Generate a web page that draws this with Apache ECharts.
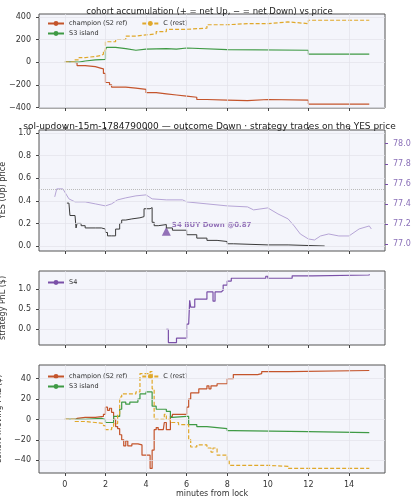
<!DOCTYPE html>
<html><head><meta charset="utf-8">
<script src="https://cdn.jsdelivr.net/npm/echarts@6/dist/echarts.min.js"></script>
<style>html,body{margin:0;background:#fff}#c{width:419px;height:500px}</style>
</head><body><div id="c"></div>
<script>
// panel 1: accumulated net YES shares
var accChampX = [0,0.3,0.6,1,1.5,1.8,1.9,2.0,2.2,2.3,3,3.5,4,4.5,5,5.5,6,6.5,7,8,9,10,12,15];
var accChampY = [0,-5,-30,-40,-55,-60,-100,-180,-200,-220,-230,-240,-270,-280,-290,-300,-310,-330,-335,-340,-330,-335,-370,-370];
var accS3X = [0,0.7,1,1.5,2,2.05,2.5,3,3.5,4,5,5.5,6,8,12,15];
var accS3Y = [0,10,20,25,110,130,120,105,115,120,115,125,110,105,70,70];
var accCX = [0,0.5,0.7,1,1.5,1.8,1.9,2,2.5,3,3.5,4,4.5,5,6,7,8,9,10,11,12,15];
var accCY = [0,20,40,50,60,70,100,180,200,230,240,250,270,290,300,330,340,340,355,340,370,370];

// panel 2: YES price and SOL/USD
var yesX = [0.1,0.2,0.25,0.5,0.55,0.6,0.8,1,1.5,1.8,2,2.1,2.3,2.5,2.7,2.8,3.0,3.3,3.7,3.9,4.2,4.3,4.4,4.6,5,5.3,6,6.5,7,7.5,8,8.3,10,11,12.8];
var yesY = [0.38,0.37,0.27,0.26,0.16,0.2,0.18,0.16,0.16,0.15,0.12,0.09,0.09,0.15,0.2,0.23,0.24,0.25,0.26,0.33,0.34,0.21,0.18,0.19,0.16,0.14,0.1,0.07,0.05,0.04,0.02,0.01,0.01,0.0,0.0];
var solX = [-0.5,-0.4,-0.1,0.2,0.5,1,1.5,2,2.3,2.6,3,3.5,4,4.3,5,5.8,6,7,8,9,9.3,10,10.5,11,11.3,11.6,12,12.3,12.6,13,13.5,14,14.5,15,15.1];
var solY = [77.47,77.55,77.55,77.45,77.42,77.42,77.4,77.38,77.4,77.44,77.46,77.48,77.49,77.45,77.44,77.44,77.42,77.4,77.38,77.37,77.34,77.36,77.3,77.25,77.18,77.1,77.05,77.04,77.08,77.1,77.08,77.08,77.15,77.18,77.15];
var buyTrade = [5.0, 0.13];

// panel 3: strategy PnL
var s4X = [5,5.1,5.3,5.5,5.9,6.0,6.1,6.12,6.15,6.2,6.4,6.9,7,7.2,7.3,7.4,7.7,7.8,8,8.2,9.8,9.9,10,11.2,12.2,15];
var s4Y = [0,-0.33,-0.33,-0.22,-0.22,0.13,0.13,0.36,0.72,0.55,0.75,0.75,0.93,0.93,0.7,0.93,0.97,1.1,1.2,1.27,1.27,1.32,1.27,1.33,1.35,1.37];

// panel 4: cohort moving PnL
var pnlChampX = [0,0.5,0.6,1,1.5,1.9,2,2.1,2.2,2.3,2.4,2.5,2.6,2.7,2.8,2.9,3.0,3.1,3.3,3.6,3.8,4.2,4.3,4.4,4.5,4.6,4.85,4.9,5.0,5.2,5.3,5.9,6.0,6.1,6.2,6.6,7.0,7.1,7.2,7.5,8,8.3,9.5,9.7,11,15];
var pnlChampY = [0,1,2,2,3,5,12,9,11,7,0,-7,-9,-15,-20,-26,-21,-26,-24,-25,-35,-48,-30,-10,-8,-10,-10,-3,-10,3,5,5,12,20,26,30,33,30,33,35,40,44,45,47,48,48];
var pnlS3X = [0,1,1.8,2,2.4,2.7,2.8,3,3.2,3.6,3.7,4.0,4.3,4.5,5,5.2,5.3,6,6.1,6.5,7,7.5,8,8.3,12,15];
var pnlS3Y = [0,1,0,-3,3,10,17,15,17,20,25,27,13,10,8,2,3,3,-5,-7,-8,-9,-11,-12,-13,-13];
var pnlCX = [0,0.5,1,1.5,1.9,2,2.3,2.4,2.6,2.7,2.8,3.5,3.7,4.1,4.2,4.3,4.4,4.8,4.9,5,5.2,5.6,6,6.1,6.2,6.5,7.0,7.2,7.3,7.5,8,8.1,9.5,10,11,15];
var pnlCY = [0,-2,-3,-4,-6,-10,-8,-4,5,22,25,27,45,45,47,30,0,0,5,0,-3,-5,-5,-20,-27,-25,-28,-32,-28,-35,-40,-45,-45,-46,-48,-48];

var xTicks = [0,2,4,6,8,10,12,14];

var COL = {champ:'#c4542b', s3:'#3f9a45', c:'#e0a82a', s4:'#7a50a8', sol:'#b6a5d6', yes:'#3a3a3a'};
function zip(xs, ys){ return xs.map(function(x,i){ return [x, ys[i]]; }); }

var grids = [
  {left:39, right:34, top:14, height:94},
  {left:39, right:34, top:130, height:121},
  {left:39, right:34, top:271, height:74},
  {left:39, right:34, top:365, height:108}
];
grids.forEach(function(g){ g.show = true; g.backgroundColor = '#f4f5fb'; g.borderColor = '#555'; g.borderWidth = 1;
  g.outerBoundsMode = 'none'; g.containLabel = false; });

var txt = {color:'#333', fontSize:8, fontFamily:'DejaVu Sans'};
function xAxis(i, labels){
  return {type:'value', gridIndex:i, min:-1.275, max:15.775,
    axisLine:{show:false, onZero:false}, splitLine:{show:false},
    axisTick:{show:true, customValues:xTicks, length:3, lineStyle:{color:'#444'}},
    axisLabel:Object.assign({show:labels, customValues:xTicks}, txt),
    name: labels ? 'minutes from lock' : '', nameLocation:'middle', nameGap:15,
    nameTextStyle:{color:'#333', fontSize:8}};
}
function yAxis(i, min, max, ticks, name, fmt){
  return {type:'value', gridIndex:i, min:min, max:max,
    axisLine:{show:false, onZero:false}, splitLine:{show:false},
    axisTick:{show:true, customValues:ticks, length:3, lineStyle:{color:'#444'}},
    axisLabel:Object.assign({customValues:ticks, formatter:fmt}, txt),
    name:name, nameLocation:'middle', nameRotate:90, nameGap:25,
    nameTextStyle:{color:'#333', fontSize:8}};
}
function minus(v){ return String(v).replace('-', '\u2212'); }
function f1(v){ return minus(v.toFixed(1)); }

function gridLines(xi, ys){
  return {silent:true, symbol:'none', label:{show:false},
    lineStyle:{color:'#e2e3ea', width:0.7, type:'solid'},
    data: ys.map(function(y){ return {yAxis:y}; }).concat(xTicks.map(function(x){ return {xAxis:x}; }))};
}
function step(name, xs, ys, xi, yi, color, dashed, extra){
  var s = {name:name, type:'line', step:'end', xAxisIndex:xi, yAxisIndex:yi, symbol:'none',
    data:zip(xs, ys), lineStyle:{color:color, width:1.2, type:dashed ? [4,2] : 'solid'},
    itemStyle:{color:color}};
  return Object.assign(s, extra || {});
}

var option = {
  animation:false,
  textStyle:{fontFamily:'DejaVu Sans'},
  title:[
    {text:'cohort accumulation (+ = net Up, \u2212 = net Down) vs price', left:'center', top:2,
     textStyle:{fontSize:8.5, fontWeight:'normal', color:'#222'}},
    {text:'sol-updown-15m-1784790000 \u2014 outcome Down \u00b7 strategy trades on the YES price', left:'center', top:117,
     textStyle:{fontSize:9, fontWeight:'normal', color:'#222'}}
  ],
  legend:[
    {data:['champion (S2 ref)','C (rest)'], left:42, top:15, itemWidth:16, itemHeight:6, itemGap:14,
     textStyle:{fontSize:6.5, color:'#333'}},
    {data:['S3 island'], left:42, top:25, itemWidth:16, itemHeight:6, textStyle:{fontSize:6.5, color:'#333'}},
    {data:['S4'], left:42, top:274, itemWidth:16, itemHeight:6, textStyle:{fontSize:6.5, color:'#333'}},
    {data:['champion (S2 ref)','C (rest)'], left:42, top:368, itemWidth:16, itemHeight:6, itemGap:14,
     textStyle:{fontSize:6.5, color:'#333'}},
    {data:['S3 island'], left:42, top:378, itemWidth:16, itemHeight:6, textStyle:{fontSize:6.5, color:'#333'}}
  ],
  grid:grids,
  xAxis:[xAxis(0,false), xAxis(1,false), xAxis(2,false), xAxis(3,true), xAxis(1,false)],
  yAxis:[
    yAxis(0, -405, 425, [-400,-200,0,200,400], 'acc. net YES (shares)', minus),
    yAxis(1, -0.044, 1.027, [0,0.2,0.4,0.6,0.8,1.0], 'YES (Up) price', f1),
    yAxis(2, -0.39, 1.45, [0,0.5,1.0], 'strategy PnL ($)', f1),
    yAxis(3, -52.5, 53.4, [-40,-20,0,20,40], 'cohort moving PnL ($)', minus),
    {type:'value', gridIndex:1, position:'right', min:76.93, max:78.137,
     axisLine:{show:false, onZero:false}, splitLine:{show:false},
     axisTick:{show:true, customValues:[77.0,77.2,77.4,77.6,77.8,78.0], length:3, lineStyle:{color:COL.s4}},
     axisLabel:{customValues:[77.0,77.2,77.4,77.6,77.8,78.0], color:'#8a6fb8', fontSize:8, formatter:function(v){return v.toFixed(1);}},
     name:'SOL/USD (strike dotted = YES 0.5)', nameLocation:'middle', nameRotate:-90, nameGap:27,
     nameTextStyle:{color:'#9a85c6', fontSize:7}}
  ],
  series:[
    step('champion (S2 ref)', accChampX, accChampY, 0, 0, COL.champ, false, {markLine:gridLines(0,[-400,-200,0,200,400])}),
    step('S3 island', accS3X, accS3Y, 0, 0, COL.s3, false),
    step('C (rest)', accCX, accCY, 0, 0, COL.c, true),
    {type:'line', xAxisIndex:4, yAxisIndex:4, symbol:'none', data:zip(solX, solY),
     lineStyle:{color:COL.sol, width:1}},
    step('YES', yesX, yesY, 1, 1, COL.yes, false, {lineStyle:{color:COL.yes, width:1},
     markLine:{silent:true, symbol:'none', label:{show:false},
       data:[{yAxis:0.5, lineStyle:{color:'#bbb', type:'dotted', width:1}}].concat(
         gridLines(1,[0,0.2,0.4,0.6,0.8,1.0]).data.map(function(d){ d.lineStyle={color:'#e2e3ea', width:0.7, type:'solid'}; return d; }))}}),
    {type:'scatter', xAxisIndex:1, yAxisIndex:1, symbol:'triangle', symbolSize:9,
     itemStyle:{color:COL.s4}, data:[buyTrade],
     label:{show:true, position:'right', distance:1, offset:[0,-6], formatter:'S4 BUY Down @0.87',
       color:COL.s4, fontSize:7, fontWeight:'bold'}},
    step('S4', s4X, s4Y, 2, 2, COL.s4, false, {markLine:gridLines(2,[0,0.5,1.0])}),
    step('champion (S2 ref)', pnlChampX, pnlChampY, 3, 3, COL.champ, false, {markLine:gridLines(3,[-40,-20,0,20,40])}),
    step('S3 island', pnlS3X, pnlS3Y, 3, 3, COL.s3, false),
    step('C (rest)', pnlCX, pnlCY, 3, 3, COL.c, true)
  ]
};

var myChart = echarts.init(document.getElementById('c'));
myChart.setOption(option);
</script>
</body></html>
